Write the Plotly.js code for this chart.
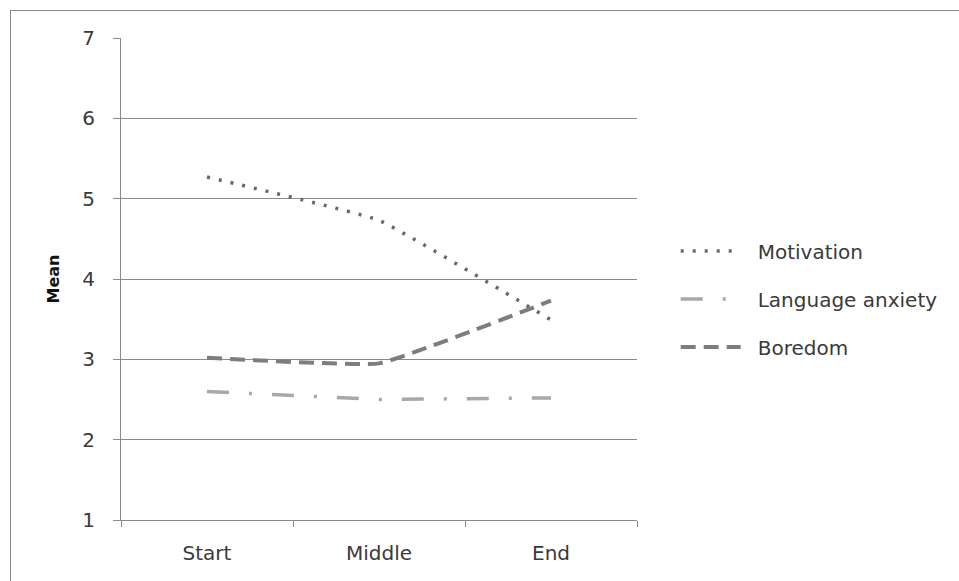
<!DOCTYPE html>
<html><head><meta charset="utf-8">
<script src="https://cdn.plot.ly/plotly-3.0.1.min.js"></script>
<style>
html,body{margin:0;padding:0;background:#fff;}
#frame{position:absolute;left:10px;top:10px;width:960px;height:580px;border-top:1px solid #8a8a8a;border-left:1px solid #8a8a8a;pointer-events:none;}
#chart{position:absolute;left:0;top:0;width:959px;height:581px;}
</style></head>
<body>
<div id="chart"></div>
<div id="frame"></div>
<script>
const categories = ["Start", "Middle", "End"];
const motivation = [5.27, 4.73, 3.49];
const languageAnxiety = [2.60, 2.50, 2.52];
const boredom = [3.02, 2.95, 3.73];
const yTicks = [1, 2, 3, 4, 5, 6, 7];

const font = "'DejaVu Sans', 'Open Sans', sans-serif";
const txt = "#3a3a3a";
const traces = [
  {x: categories, y: motivation, name: "Motivation", type: "scatter", mode: "lines",
   legendgroup: "a",
   line: {color: "#686868", width: 3.5, dash: "3px,9px", shape: "spline", smoothing: 0.3}},
  {x: categories, y: languageAnxiety, name: "Language anxiety", type: "scatter", mode: "lines",
   legendgroup: "b",
   line: {color: "#a8a8a8", width: 3.5, dash: "22px,20px,3px,20px"}},
  {x: categories, y: boredom, name: "Boredom", type: "scatter", mode: "lines",
   legendgroup: "c",
   line: {color: "#7d7d7d", width: 4, dash: "15px,8px", shape: "spline", smoothing: 0.3}}
];

const layout = {
  width: 959, height: 581,
  margin: {l: 121, r: 322, t: 38, b: 61},
  paper_bgcolor: "#fff", plot_bgcolor: "#fff",
  font: {family: font, size: 20, color: txt},
  showlegend: true,
  legend: {x: 1.075, y: 0.4585, xanchor: "left", yanchor: "middle",
           font: {family: font, size: 20, color: txt},
           itemwidth: 72,
           tracegroupgap: 19, traceorder: "grouped", bgcolor: "rgba(0,0,0,0)"},
  xaxis: {type: "category", range: [-0.5, 2.5], tickson: "boundaries",
          ticks: "outside", ticklen: 6, tickcolor: "#8a8a8a", tickwidth: 1,
          showline: true, linecolor: "#8a8a8a", linewidth: 1, showgrid: false,
          zeroline: false, fixedrange: true, ticklabelstandoff: 15,
          tickfont: {family: font, size: 20, color: txt}},
  yaxis: {range: [1, 7], tickvals: yTicks, ticktext: yTicks.map(String),
          ticks: "outside", ticklen: 7, tickcolor: "#8a8a8a", tickwidth: 1,
          showline: true, linecolor: "#8a8a8a", linewidth: 1,
          showgrid: true, gridcolor: "#8a8a8a", gridwidth: 1, zeroline: false,
          ticklabelstandoff: 14,
          tickfont: {family: font, size: 20, color: txt},
          title: {text: "<b>Mean</b>", standoff: 18, font: {family: font, size: 16, color: "#111"}}}
};

Plotly.newPlot("chart", traces, layout, {displayModeBar: false, staticPlot: true}).then(function () {
  document.querySelectorAll('#chart .legend .legendlines path').forEach(function (p) {
    p.setAttribute('d', 'M5,0h60');
  });
});
</script>
</body></html>
